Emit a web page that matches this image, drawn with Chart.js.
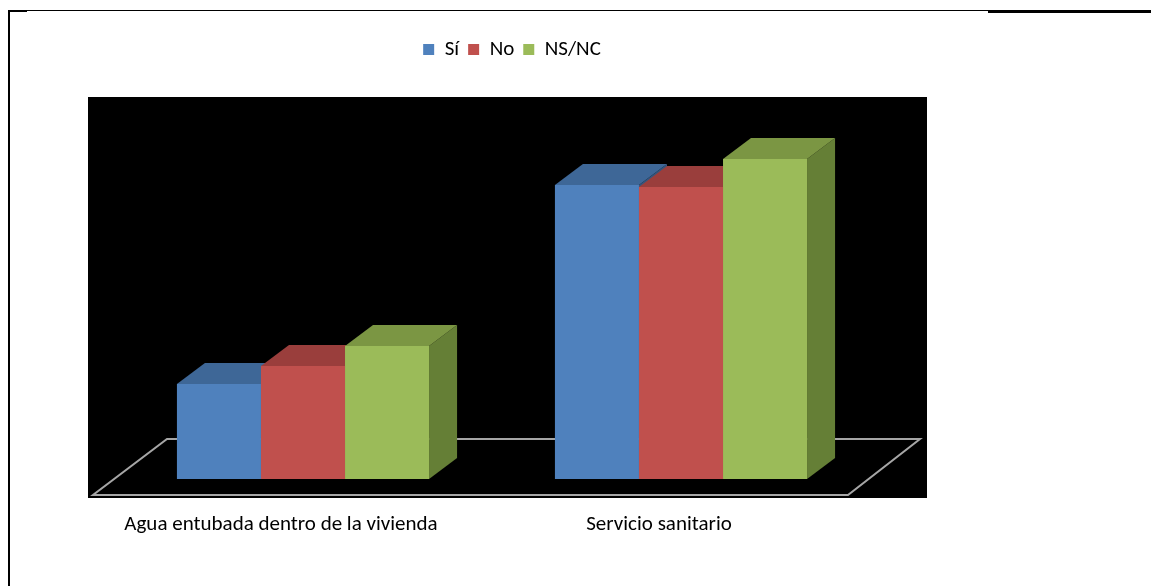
<!DOCTYPE html>
<html>
<head>
<meta charset="utf-8">
<script src="https://cdn.jsdelivr.net/npm/chart.js@4/dist/chart.umd.min.js"></script>
<style>
  html, body { margin: 0; padding: 0; background: #fff; }
  #wrap { position: relative; width: 1151px; height: 586px; overflow: hidden; }
  #frame { position: absolute; left: 8px; top: 10px; width: 980px; height: 600px; border-left: 2px solid #000; border-top: 1px solid #000; }
  #frameRight { position: absolute; left: 988px; top: 10px; width: 170px; border-top: 3px solid #000; }
  #frameCorner { position: absolute; left: 8px; top: 10px; width: 19px; border-top: 2px solid #000; }
  canvas { position: absolute; left: 0; top: 0; }
</style>
</head>
<body>
<div id="wrap">
  <div id="frame"></div>
  <div id="frameRight"></div>
  <div id="frameCorner"></div>
  <canvas id="chart" width="1151" height="586"></canvas>
</div>
<script>
// Data (no axis shown, arbitrary units)
const categories = ["Agua entubada dentro de la vivienda", "Servicio sanitario"];
const seriesNames = ["Sí", "No", "NS/NC"];
const siValues = [95, 294];
const noValues = [113, 292];
const nsncValues = [133, 320];
const yMax = 350;

// Styles
const frontColors = ["#4F81BD", "#C0504D", "#9BBB59"];
const topColors = ["#3E6797", "#9A3E3C", "#7B9643"];
const sideColors = ["#34567E", "#7F3331", "#657F36"];
const depthX = 28;
const depthY = 21;
const fontFamily = "Carlito, Calibri, Lato, sans-serif";

// black backdrop + floor + 3D tops/sides
const box3d = {
    id: "box3d",
    beforeDraw(chart) {
        const { ctx, chartArea: a } = chart;
        ctx.save();
        ctx.fillStyle = "#000";
        ctx.fillRect(a.left - 26, a.top - 32, (a.right + 57) - (a.left - 26), (a.bottom + 19) - (a.top - 32));
        ctx.restore();
    },
    beforeDatasetsDraw(chart) {
        const { ctx, chartArea: a } = chart;
        ctx.save();
        // floor outline
        ctx.strokeStyle = "#A6A6A6";
        ctx.lineWidth = 2;
        ctx.beginPath();
        ctx.moveTo(a.left - 21, a.bottom + 16);
        ctx.lineTo(a.right - 22, a.bottom + 16);
        ctx.lineTo(a.right + 50, a.bottom - 40);
        ctx.lineTo(a.left + 53, a.bottom - 40);
        ctx.closePath();
        ctx.stroke();

        // tops and sides, left to right so fronts cover what they should
        for (let i = 0; i < categories.length; i++) {
            chart.data.datasets.forEach((ds, d) => {
                const el = chart.getDatasetMeta(d).data[i];
                if (!el) return;
                const x1 = el.x - el.width / 2;
                const x2 = el.x + el.width / 2;
                const y = el.y;
                const base = el.base;

                ctx.fillStyle = sideColors[d];
                ctx.beginPath();
                ctx.moveTo(x2, y);
                ctx.lineTo(x2 + depthX, y - depthY);
                ctx.lineTo(x2 + depthX, base - depthY);
                ctx.lineTo(x2, base);
                ctx.closePath();
                ctx.fill();

                ctx.fillStyle = topColors[d];
                ctx.beginPath();
                ctx.moveTo(x1, y);
                ctx.lineTo(x2, y);
                ctx.lineTo(x2 + depthX, y - depthY);
                ctx.lineTo(x1 + depthX, y - depthY);
                ctx.closePath();
                ctx.fill();
            });
        }
        ctx.restore();
    }
};

const ctx = document.getElementById("chart");
new Chart(ctx, {
    type: "bar",
    data: {
        labels: categories,
        datasets: [
            { label: seriesNames[0], data: siValues, backgroundColor: frontColors[0] },
            { label: seriesNames[1], data: noValues, backgroundColor: frontColors[1] },
            { label: seriesNames[2], data: nsncValues, backgroundColor: frontColors[2] },
        ],
    },
    options: {
        responsive: false,
        animation: false,
        layout: { padding: { left: 114, right: 241, top: 30, bottom: 40 } },
        datasets: { bar: { barPercentage: 1, categoryPercentage: 0.667, borderWidth: 0 } },
        plugins: {
            legend: {
                position: "top",
                labels: {
                    boxWidth: 11,
                    boxHeight: 11,
                    padding: 9,
                    color: "#000",
                    font: { family: fontFamily, size: 21 },
                },
            },
            tooltip: { enabled: false },
        },
        scales: {
            x: {
                grid: { display: false },
                border: { display: false },
                ticks: { color: "#000", padding: 25, labelOffset: -22, maxRotation: 0, font: { family: fontFamily, size: 21 } },
                afterFit(s) { s.height = 67; },
            },
            xTop: {
                type: "category",
                position: "top",
                grid: { display: false },
                border: { display: false },
                ticks: { display: false },
                afterFit(s) { s.height = 59; },
            },
            y: {
                position: "right",
                min: 0,
                max: yMax,
                grid: { display: false },
                border: { display: false },
                ticks: { display: false },
                afterFit(s) { s.width = 40; },
            },
        },
    },
    plugins: [box3d],
});
</script>
</body>
</html>
